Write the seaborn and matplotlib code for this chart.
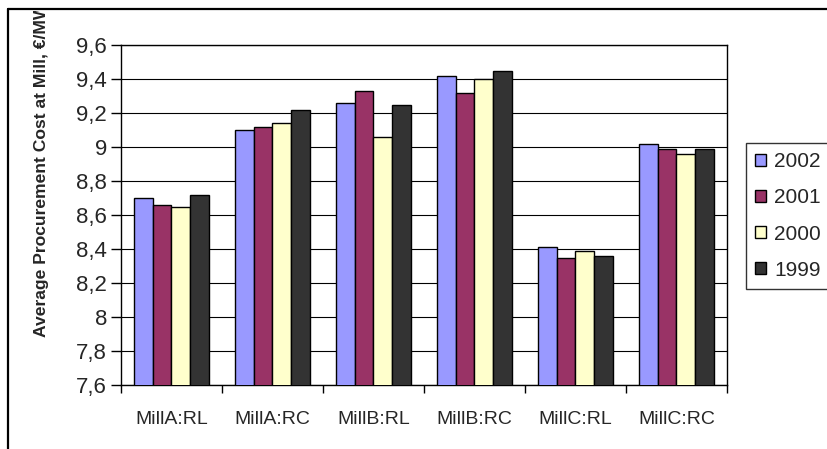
import matplotlib
matplotlib.use("Agg")
import matplotlib.pyplot as plt
from matplotlib.patches import Patch
from matplotlib.lines import Line2D
from matplotlib.transforms import Bbox
import seaborn as sns
import pandas as pd

# Average procurement cost per mill and supply type, by year
categories = ["MillA:RL", "MillA:RC", "MillB:RL", "MillB:RC", "MillC:RL", "MillC:RC"]
years = ["2002", "2001", "2000", "1999"]
cost_2002 = [8.70, 9.10, 9.26, 9.42, 8.41, 9.02]
cost_2001 = [8.66, 9.12, 9.33, 9.32, 8.35, 8.99]
cost_2000 = [8.65, 9.14, 9.06, 9.40, 8.39, 8.96]
cost_1999 = [8.72, 9.22, 9.25, 9.45, 8.36, 8.99]
y_ticks = [7.6, 7.8, 8.0, 8.2, 8.4, 8.6, 8.8, 9.0, 9.2, 9.4, 9.6]
y_tick_labels = ["7,6", "7,8", "8", "8,2", "8,4", "8,6", "8,8", "9", "9,2", "9,4", "9,6"]
colors = {"2002": "#9999FF", "2001": "#993366", "2000": "#FFFFCC", "1999": "#333333"}

series = {"2002": cost_2002, "2001": cost_2001, "2000": cost_2000, "1999": cost_1999}
df = pd.DataFrame(
    [(c, y, v) for y in years for c, v in zip(categories, series[y])],
    columns=["mill", "year", "cost"],
)

sns.set_style("white")
plt.rcParams["font.family"] = ["Liberation Sans", "DejaVu Sans"]

W, H = 828, 449
fig = plt.figure(figsize=(W / 100, H / 100), dpi=100)
ax = fig.add_axes([121 / W, 1 - 385 / H, (727 - 121) / W, (385 - 45) / H])

sns.barplot(
    data=df, x="mill", y="cost", hue="year", order=categories, hue_order=years,
    palette=colors, edgecolor="black", linewidth=1.0, width=0.733,
    saturation=1, legend=False, ax=ax, zorder=3,
)

ax.set_ylim(7.6, 9.6)
ax.set_xlim(-0.5, len(categories) - 0.5)
ax.set_yticks(y_ticks)
ax.set_yticklabels(y_tick_labels, fontsize=16)
ax.yaxis.grid(True, color="black", linewidth=0.8, zorder=0)
ax.set_axisbelow(True)

# boundary ticks between categories, labels at category centres
ax.set_xticks([i - 0.5 for i in range(len(categories) + 1)])
ax.set_xticklabels([])
ax.set_xticks(range(len(categories)), minor=True)
ax.set_xticklabels(categories, minor=True, fontsize=14)
ax.tick_params(axis="x", which="major", direction="out", length=6, width=1, color="black", bottom=True)
ax.tick_params(axis="x", which="minor", length=0, pad=19)
ax.tick_params(axis="y", direction="out", length=7, width=1, color="black", left=True, pad=3)
ax.set_xlabel("")
ax.set_ylabel("")
for s in ax.spines.values():
    s.set_visible(True)
    s.set_color("black")
    s.set_linewidth(1.0)

handles = [Patch(facecolor=colors[y], edgecolor="black", linewidth=1.0) for y in years]
leg = fig.legend(
    handles, years, loc="upper left", bbox_to_anchor=(746 / W, 1 - 143 / H),
    fontsize=15, frameon=True, fancybox=False, shadow=False,
    handlelength=0.5, handleheight=0.5, handletextpad=0.4, labelspacing=0.82,
    borderpad=0.45, borderaxespad=0,
)
leg.get_frame().set_edgecolor("black")
leg.get_frame().set_linewidth(1.0)

# axis title, clipped by the chart frame at the top
t = fig.text(42 / W, 1 - 337 / H, "Average Procurement Cost at Mill, €/MWh",
             rotation=90, ha="center", va="bottom", fontsize=12.6, fontweight="bold")
t.set_clip_box(Bbox([[0, 0], [W, H - 11]]))
t.set_clip_on(True)

# chart frame (top and left edges)
fig.add_artist(Line2D([8 / W, 8 / W], [0, 1 - 9 / H], color="black", linewidth=1.6, transform=fig.transFigure))
fig.add_artist(Line2D([8 / W, 1], [1 - 9 / H, 1 - 9 / H], color="black", linewidth=1.6, transform=fig.transFigure))

fig.savefig("out.png", dpi=100)
